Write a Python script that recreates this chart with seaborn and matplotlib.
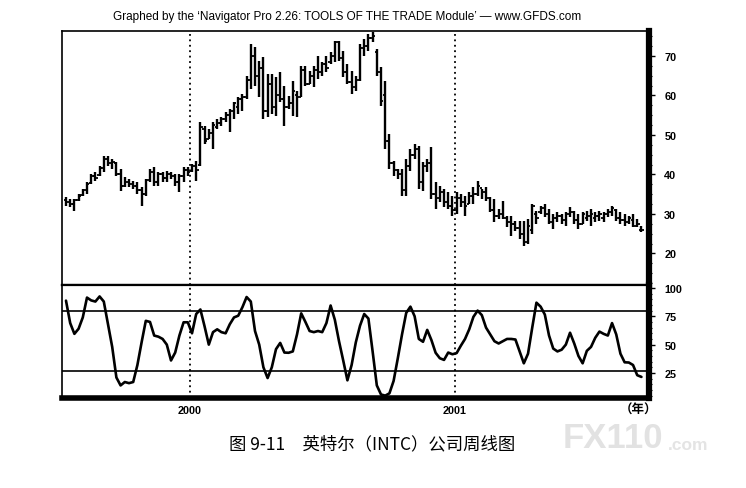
import numpy as np
import pandas as pd
import matplotlib
matplotlib.use("Agg")
import matplotlib.pyplot as plt
import seaborn as sns
from matplotlib.ticker import MultipleLocator

sns.set_theme(style="white")
plt.rcParams['font.family'] = ['Liberation Sans', 'DejaVu Sans']

# ---- data (weekly bars, INTC) ----
high = [34.3, 33.8, 33.8, 35.0, 36.3, 38.1, 40.1, 40.6, 42.2, 44.7,
        44.7, 43.9, 43.2, 41.4, 39.4, 38.9, 38.4, 38.1, 36.8, 38.9,
        41.4, 41.9, 40.6, 40.6, 40.9, 40.6, 40.1, 40.1, 41.9, 41.9,
        42.7, 43.4, 53.3, 52.3, 51.5, 53.3, 54.0, 54.6, 55.8, 56.6,
        58.4, 59.6, 60.4, 64.9, 73.0, 72.3, 68.7, 69.7, 65.4, 65.4,
        64.7, 66.0, 62.4, 59.9, 63.7, 61.1, 67.5, 67.5, 66.2, 67.5,
        70.0, 68.5, 70.0, 71.0, 73.8, 73.8, 71.3, 68.0, 66.2, 64.9,
        73.0, 74.3, 75.6, 76.0, 71.8, 67.2, 63.7, 50.3, 43.4, 41.4,
        41.4, 43.9, 46.5, 47.7, 47.2, 43.2, 43.9, 47.0, 38.1, 37.1,
        36.3, 35.6, 34.6, 35.6, 35.1, 34.6, 35.6, 36.8, 38.4, 36.3,
        36.8, 34.3, 33.8, 31.3, 33.3, 29.5, 29.5, 28.2, 28.2, 28.2,
        28.7, 32.5, 30.8, 32.0, 32.5, 31.3, 30.0, 30.5, 30.0, 30.5,
        31.8, 30.8, 30.0, 30.5, 30.8, 31.3, 30.5, 30.8, 30.5, 31.3,
        32.0, 31.3, 30.5, 30.0, 29.5, 30.0, 28.7, 27.0]
low = [32.0, 31.8, 30.8, 33.3, 34.6, 35.1, 37.6, 38.4, 39.6, 40.6,
       42.2, 41.4, 39.6, 35.8, 36.8, 36.8, 36.3, 35.1, 32.0, 34.6,
       38.1, 37.1, 37.1, 38.1, 38.1, 38.9, 37.1, 35.6, 38.1, 39.6,
       40.6, 38.4, 42.2, 47.7, 49.0, 46.5, 51.5, 52.3, 53.3, 50.8,
       54.0, 55.3, 56.1, 59.1, 61.6, 62.4, 59.6, 54.0, 54.6, 55.3,
       54.8, 58.4, 52.3, 56.6, 54.8, 54.6, 59.6, 62.4, 62.9, 62.2,
       64.2, 64.9, 66.0, 68.0, 68.5, 68.7, 64.7, 62.9, 60.4, 61.1,
       63.7, 70.0, 71.3, 73.5, 64.9, 57.3, 46.5, 41.4, 39.6, 38.9,
       34.6, 34.6, 40.9, 43.9, 36.3, 35.8, 40.6, 33.8, 31.3, 33.0,
       31.8, 31.3, 29.5, 30.0, 31.8, 29.5, 32.5, 32.5, 34.6, 33.8,
       33.3, 30.5, 28.0, 28.7, 28.7, 26.7, 24.4, 25.7, 23.7, 21.9,
       22.5, 24.9, 27.5, 30.0, 29.2, 27.5, 26.2, 28.0, 27.5, 27.0,
       29.2, 27.5, 26.2, 27.5, 28.2, 27.0, 28.0, 28.2, 28.0, 29.2,
       29.5, 28.2, 27.5, 27.0, 27.5, 26.7, 26.7, 25.4]
open_ = [33.5, 33.0, 32.5, 33.5, 34.8, 36.0, 37.8, 39.5, 39.8, 41.5,
         44.0, 43.0, 43.0, 40.0, 37.0, 38.0, 37.5, 37.0, 36.0, 35.0,
         38.5, 40.5, 38.0, 40.0, 39.0, 40.0, 39.5, 38.0, 39.5, 41.0,
         40.8, 42.0, 42.5, 51.5, 49.0, 50.5, 52.0, 53.0, 54.0, 55.0,
         56.0, 57.0, 59.0, 59.5, 64.0, 70.0, 65.0, 67.0, 56.0, 63.0,
         57.0, 60.0, 59.0, 57.0, 58.0, 60.0, 59.5, 66.5, 63.0, 65.0,
         66.5, 66.0, 68.0, 68.5, 70.0, 73.5, 69.5, 66.0, 63.5, 62.0,
         64.0, 72.0, 72.5, 74.5, 71.0, 66.0, 60.0, 48.5, 43.0, 41.0,
         40.0, 36.0, 42.0, 45.0, 46.5, 38.0, 42.0, 43.0, 35.0, 34.0,
         35.5, 33.0, 32.0, 31.0, 34.0, 33.0, 32.5, 34.5, 35.0, 36.5,
         35.5, 34.0, 31.0, 29.5, 30.0, 29.0, 28.0, 27.5, 26.5, 25.0,
         23.0, 26.0, 30.0, 30.5, 31.5, 30.0, 28.0, 29.0, 29.5, 28.5,
         30.0, 30.5, 28.5, 27.5, 29.0, 29.5, 29.0, 29.5, 29.0, 30.0,
         30.5, 31.0, 29.0, 28.5, 28.0, 28.5, 27.0, 26.0]
close = [33.0, 32.5, 33.5, 34.5, 36.0, 37.5, 39.5, 39.0, 41.5, 44.0,
         43.0, 43.2, 40.0, 37.0, 38.0, 37.5, 37.0, 36.0, 35.0, 38.5,
         40.5, 38.0, 40.0, 39.0, 40.0, 39.5, 38.0, 39.5, 41.0, 40.5,
         42.0, 41.0, 52.0, 48.5, 50.5, 52.5, 53.0, 54.0, 55.0, 56.0,
         58.0, 59.0, 59.5, 64.0, 70.0, 65.0, 67.0, 56.0, 63.0, 57.0,
         60.0, 59.0, 57.0, 58.0, 61.0, 59.5, 66.5, 63.0, 65.0, 66.5,
         66.0, 68.0, 67.0, 70.0, 73.5, 69.5, 66.0, 63.5, 62.0, 64.0,
         72.0, 72.5, 74.5, 75.0, 66.0, 58.5, 48.5, 43.0, 41.0, 40.0,
         36.0, 42.0, 45.0, 46.5, 38.0, 42.0, 43.0, 35.0, 34.0, 35.5,
         33.0, 32.0, 31.0, 34.0, 33.0, 32.0, 34.5, 35.0, 37.0, 35.5,
         34.0, 31.0, 29.5, 30.0, 29.0, 28.0, 27.5, 26.5, 25.0, 23.0,
         27.0, 32.0, 29.0, 31.5, 30.0, 28.0, 29.0, 29.5, 28.5, 30.0,
         30.5, 28.5, 27.5, 30.0, 29.5, 30.0, 29.5, 30.0, 30.0, 30.5,
         31.5, 29.0, 28.5, 28.0, 29.0, 27.0, 27.5, 26.0]
osc = [88.8, 69.0, 59.5, 64.0, 74.0, 91.5, 89.0, 88.0, 92.5, 88.0,
       68.0, 48.0, 21.0, 14.0, 17.0, 16.0, 17.0, 32.0, 52.0, 71.0,
       70.0, 58.0, 57.0, 55.0, 50.0, 36.0, 43.0, 58.0, 69.7, 69.7,
       60.0, 77.0, 81.0, 66.0, 50.0, 61.0, 63.5, 61.0, 60.0, 68.0,
       74.0, 75.5, 83.0, 92.0, 88.0, 62.0, 50.0, 30.0, 20.5, 30.0,
       46.0, 51.5, 43.0, 42.8, 44.0, 59.0, 77.6, 70.0, 62.0, 61.0,
       62.0, 61.0, 69.0, 84.5, 72.0, 53.0, 36.0, 18.5, 32.0, 52.0,
       66.7, 77.0, 73.0, 44.0, 14.0, 6.0, 5.0, 7.0, 18.0, 38.0,
       59.0, 78.0, 83.5, 75.0, 55.0, 52.5, 63.0, 54.0, 42.8, 38.0,
       36.5, 43.0, 41.5, 42.5, 49.0, 55.0, 63.5, 74.5, 80.0, 76.0,
       65.0, 59.0, 53.0, 51.0, 53.0, 55.0, 55.0, 54.5, 44.0, 33.5,
       42.0, 65.0, 87.0, 83.5, 76.5, 58.0, 46.5, 44.0, 45.5, 50.0,
       60.5, 51.0, 40.0, 33.5, 44.5, 48.0, 56.0, 61.5, 59.5, 58.0,
       69.0, 59.0, 42.0, 34.4, 34.2, 32.0, 23.0, 21.5]

year_labels = ["2000", "2001"]
year_pos = [29.5, 92.6]          # bar-index position of each new year
price_ticks = [20, 30, 40, 50, 60, 70]
osc_ticks = [25, 50, 75, 100]
osc_levels = [80, 27]

title = "Graphed by the \u2018Navigator Pro 2.26: TOOLS OF THE TRADE Module\u2019 \u2014 www.GFDS.com"
caption = "图 9-11　英特尔（INTC）公司周线图"

df = pd.DataFrame({"bar": np.arange(len(high)), "high": high, "low": low,
                   "open": open_, "close": close, "osc": osc})

W, H = 746, 489
fig = plt.figure(figsize=(W / 100, H / 100), dpi=100)
fig.patch.set_facecolor("white")
L, R = 62, 649
ax1 = fig.add_axes([L / W, 1 - 286 / H, (R - L) / W, (286 - 32) / H])
ax2 = fig.add_axes([L / W, 1 - 399 / H, (R - L) / W, (399 - 286) / H], sharex=ax1)

# price bars
ax1.vlines(df["bar"], df["low"], df["high"], color="black", lw=1.7)
ax1.hlines(df["open"], df["bar"] - 0.55, df["bar"], color="black", lw=1.3)
ax1.hlines(df["close"], df["bar"], df["bar"] + 0.55, color="black", lw=1.3)

# oscillator
sns.lineplot(data=df, x="bar", y="osc", ax=ax2, color="black", lw=1.9)
for lv in osc_levels:
    ax2.axhline(lv, color="black", lw=1.2)

for p in year_pos:
    ax1.axvline(p, color="black", lw=1.3, ls=(0, (1, 2)))
    ax2.axvline(p, color="black", lw=1.3, ls=(0, (1, 2)))

ax1.set_xlim(-0.95, 138.8)
ax1.set_ylim(12.0, 76.3)
ax2.set_ylim(2.9, 102.6)

for ax in (ax1, ax2):
    ax.set_facecolor("white")
    ax.grid(False)
    ax.set_xlabel("")
    ax.set_ylabel("")
    ax.yaxis.tick_right()
    for s in ax.spines.values():
        s.set_color("black")
    ax.spines["left"].set_linewidth(1.2)
    ax.spines["right"].set_linewidth(4.5)

ax1.spines["top"].set_linewidth(1.2)
ax1.spines["bottom"].set_linewidth(1.6)
ax2.spines["top"].set_linewidth(1.6)
ax2.spines["bottom"].set_linewidth(4.0)

ax1.set_yticks(price_ticks)
ax1.set_yticklabels([str(t) for t in price_ticks], fontweight="bold", fontsize=7.8)
ax1.yaxis.set_minor_locator(MultipleLocator(2.5))
ax2.set_yticks(osc_ticks)
ax2.set_yticklabels([str(t) for t in osc_ticks], fontweight="bold", fontsize=7.8)
ax2.yaxis.set_minor_locator(MultipleLocator(5))
for ax in (ax1, ax2):
    ax.tick_params(axis="y", which="major", right=True, left=False, direction="out",
                   length=4, width=1, pad=7, colors="black")
    ax.tick_params(axis="y", which="minor", right=True, left=False, direction="out",
                   length=2, width=0.8, colors="black")

ax1.tick_params(axis="x", bottom=False, labelbottom=False)
ax2.set_xticks(year_pos)
ax2.set_xticklabels(year_labels, fontweight="bold", fontsize=7.8)
ax2.tick_params(axis="x", length=0, pad=5, colors="black")

fig.text(347 / W, 1 - 17 / H, title, ha="center", va="center", fontsize=8.45, color="black")
fig.text(639 / W, 1 - 410 / H, "（年）", ha="center", va="center", fontsize=9,
         fontweight="bold", family=["Noto Sans CJK SC", "DejaVu Sans"], color="black")
fig.text(372 / W, 1 - 444 / H, caption, ha="center", va="center", fontsize=12.5,
         family=["Noto Sans CJK SC", "DejaVu Sans"], color="black")
fig.text(563 / W, 1 - 439 / H, "FX110", ha="left", va="center", fontsize=25,
         fontweight="bold", color="#e2e2e2")
fig.text(668 / W, 1 - 446 / H, ".com", ha="left", va="center", fontsize=12.5,
         fontweight="bold", color="#e4e4e4")

fig.savefig("out.png", dpi=100, facecolor="white")
